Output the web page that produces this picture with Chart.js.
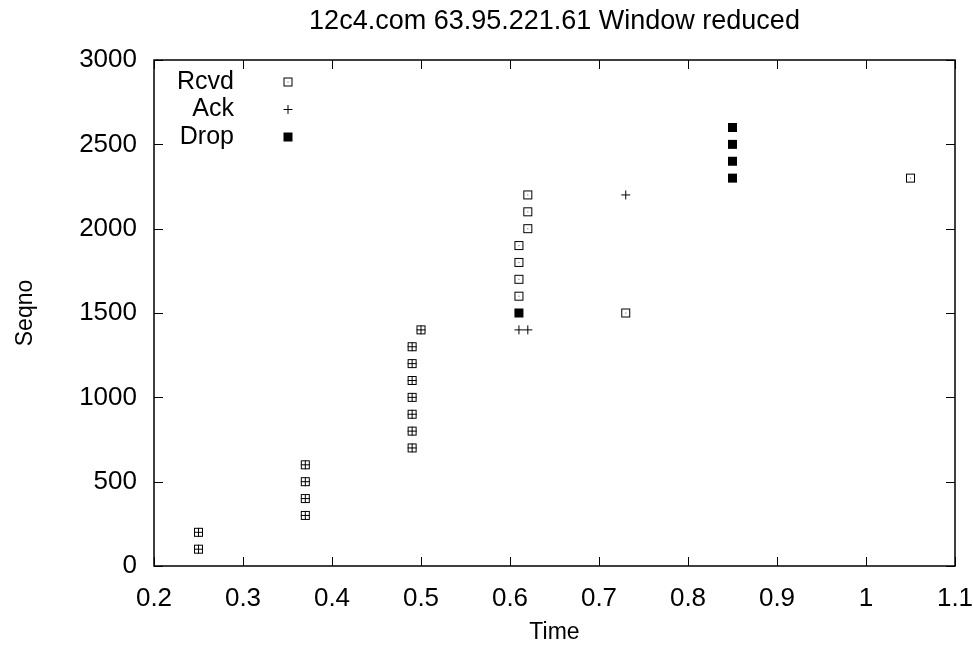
<!DOCTYPE html>
<html>
<head>
<meta charset="utf-8">
<script src="https://cdn.jsdelivr.net/npm/chart.js@4/dist/chart.umd.min.js"></script>
<style>
  body { margin: 0; background: #fff; }
  #wrap { width: 973px; height: 648px; }
</style>
</head>
<body>
<div id="wrap"><canvas id="seqChart"></canvas></div>
<script>
// data
const titleText = '12c4.com 63.95.221.61 Window reduced';
const rcvdX = [0.25, 0.25, 0.37, 0.37, 0.37, 0.37, 0.49, 0.49, 0.49, 0.49, 0.49, 0.49, 0.49, 0.5, 0.61, 0.61, 0.61, 0.61, 0.62, 0.62, 0.62, 0.73, 1.05];
const rcvdY = [100, 200, 300, 400, 500, 600, 700, 800, 900, 1000, 1100, 1200, 1300, 1400, 1600, 1700, 1800, 1900, 2000, 2100, 2200, 1500, 2300];
const ackX = [0.25, 0.25, 0.37, 0.37, 0.37, 0.37, 0.49, 0.49, 0.49, 0.49, 0.49, 0.49, 0.49, 0.5, 0.61, 0.62, 0.73];
const ackY = [100, 200, 300, 400, 500, 600, 700, 800, 900, 1000, 1100, 1200, 1300, 1400, 1400, 1400, 2200];
const dropX = [0.61, 0.85, 0.85, 0.85, 0.85];
const dropY = [1500, 2300, 2400, 2500, 2600];
const xTicks = [0.2, 0.3, 0.4, 0.5, 0.6, 0.7, 0.8, 0.9, 1, 1.1];
const yTicks = [0, 500, 1000, 1500, 2000, 2500, 3000];

const FONT = '"Liberation Sans", Arial, sans-serif';
Chart.defaults.color = '#000';
Chart.defaults.font.family = FONT;

// marker images (gnuplot look)
function makeRcvd() {
  const c = document.createElement('canvas');
  c.width = 11; c.height = 11;
  const g = c.getContext('2d');
  g.strokeStyle = '#000';
  g.lineWidth = 1;
  g.strokeRect(1.5, 1.5, 8, 8);
  g.fillStyle = '#555';
  g.fillRect(5, 5, 1, 1);
  return c;
}
function makeAck() {
  const c = document.createElement('canvas');
  c.width = 11; c.height = 11;
  const g = c.getContext('2d');
  g.strokeStyle = '#000';
  g.lineWidth = 1;
  g.beginPath();
  g.moveTo(1, 5.5); g.lineTo(10, 5.5);
  g.moveTo(5.5, 1); g.lineTo(5.5, 10);
  g.stroke();
  return c;
}
function makeDrop() {
  const c = document.createElement('canvas');
  c.width = 11; c.height = 11;
  const g = c.getContext('2d');
  g.fillStyle = '#000';
  g.fillRect(1, 1, 9, 9);
  return c;
}
const rcvdImg = makeRcvd();
const ackImg = makeAck();
const dropImg = makeDrop();

function toPoints(xs, ys) {
  return xs.map((x, i) => ({ x: x, y: ys[i] }));
}

// frame with inward ticks on all four sides, title over the plot, gnuplot style key
const framePlugin = {
  id: 'frame',
  afterDraw(chart) {
    const ctx = chart.ctx;
    const a = chart.chartArea;
    const xs = chart.scales.x;
    const ys = chart.scales.y;
    ctx.save();
    ctx.strokeStyle = '#000';
    ctx.lineWidth = 1;
    ctx.beginPath();
    xTicks.forEach((t) => {
      const px = Math.round(xs.getPixelForValue(t)) + 0.5;
      ctx.moveTo(px, a.bottom); ctx.lineTo(px, a.bottom - 9);
      ctx.moveTo(px, a.top); ctx.lineTo(px, a.top + 9);
    });
    yTicks.forEach((t) => {
      const py = Math.round(ys.getPixelForValue(t)) + 0.5;
      ctx.moveTo(a.left, py); ctx.lineTo(a.left + 9, py);
      ctx.moveTo(a.right, py); ctx.lineTo(a.right - 9, py);
    });
    ctx.stroke();
    ctx.lineWidth = 1.5;
    ctx.strokeRect(a.left, a.top, a.right - a.left, a.bottom - a.top);

    // title, centred on the plot
    ctx.fillStyle = '#000';
    ctx.font = '27px ' + FONT;
    ctx.textAlign = 'center';
    ctx.textBaseline = 'middle';
    ctx.fillText(titleText, (a.left + a.right) / 2, 22);

    // key
    ctx.font = '25px ' + FONT;
    ctx.textAlign = 'right';
    chart.data.datasets.forEach((ds, i) => {
      const y = a.top + 22 + i * 27.5;
      ctx.fillText(ds.label, a.left + 80, y);
      const img = ds.pointStyle;
      ctx.drawImage(img, a.left + 134 - img.width / 2, y - img.height / 2);
    });
    ctx.restore();
  }
};

const scatterData = {
  datasets: [
    {
      label: 'Rcvd',
      data: toPoints(rcvdX, rcvdY),
      pointStyle: rcvdImg,
      order: 3,
    },
    {
      label: 'Ack',
      data: toPoints(ackX, ackY),
      pointStyle: ackImg,
      order: 2,
    },
    {
      label: 'Drop',
      data: toPoints(dropX, dropY),
      pointStyle: dropImg,
      order: 1,
    },
  ],
};

const scatterConfig = {
  type: 'scatter',
  data: scatterData,
  options: {
    responsive: true,
    maintainAspectRatio: false,
    animation: false,
    events: [],
    layout: { padding: { top: 60, right: 18, left: 0, bottom: 0 } },
    plugins: {
      legend: { display: false },
      tooltip: { enabled: false },
      title: { display: false },
    },
    scales: {
      x: {
        type: 'linear',
        min: 0.2,
        max: 1.1,
        afterBuildTicks: (s) => { s.ticks = xTicks.map((v) => ({ value: v })); },
        ticks: {
          font: { size: 26 },
          padding: 17,
          maxRotation: 0,
          callback: (v) => String(+v.toFixed(1)),
        },
        grid: { display: false, drawTicks: false },
        border: { display: false },
        title: {
          display: true,
          text: 'Time',
          font: { size: 23 },
          padding: { top: 0, bottom: 2 },
        },
        afterFit: (s) => {
          s.height = 82;
          s.paddingLeft = 0;
          s.paddingRight = 0;
        },
      },
      y: {
        type: 'linear',
        min: 0,
        max: 3000,
        afterBuildTicks: (s) => { s.ticks = yTicks.map((v) => ({ value: v })); },
        ticks: {
          font: { size: 26 },
          padding: 17,
          callback: (v) => String(v),
        },
        grid: { display: false, drawTicks: false },
        border: { display: false },
        title: {
          display: true,
          text: 'Seqno',
          font: { size: 23 },
          padding: { top: 12, bottom: 0 },
        },
        afterFit: (s) => {
          s.width = 154;
          s.paddingTop = 0;
          s.paddingBottom = 0;
        },
      },
    },
  },
  plugins: [framePlugin],
};

const seqChart = new Chart(document.getElementById('seqChart'), scatterConfig);
</script>
</body>
</html>
